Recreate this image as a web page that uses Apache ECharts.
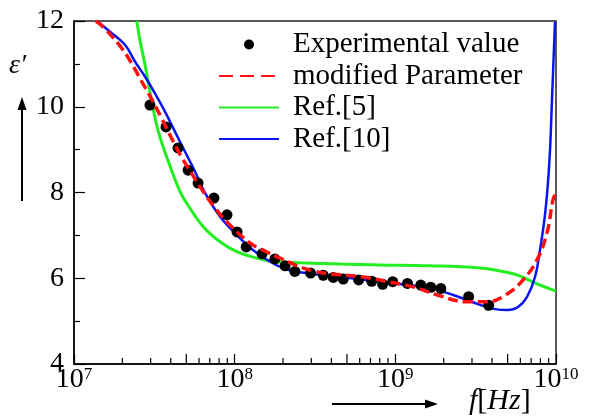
<!DOCTYPE html>
<html>
<head>
<meta charset="utf-8">
<script src="https://cdn.jsdelivr.net/npm/echarts@6/dist/echarts.min.js"></script>
<style>
  html, body { margin: 0; padding: 0; background: #fff; }
  #main { width: 589px; height: 418px; }
</style>
</head>
<body>
<div id="main"></div>
<script>
// experimental points
var expFreq = [2.97e7, 3.74e7, 4.44e7, 5.13e7, 5.92e7, 7.43e7, 8.96e7, 1.035e8, 1.18e8, 1.48e8, 1.78e8, 2.06e8, 2.37e8,
  2.97e8, 3.56e8, 4.11e8, 4.74e8, 5.91e8, 7.13e8, 8.34e8, 9.63e8, 1.19e9, 1.44e9, 1.66e9, 1.92e9, 2.86e9, 3.81e9];
var expEps = [10.04, 9.53, 9.04, 8.52, 8.22, 7.87, 7.48, 7.08, 6.73, 6.57, 6.45, 6.29, 6.16,
  6.12, 6.07, 6.02, 5.98, 5.96, 5.93, 5.86, 5.92, 5.88, 5.84, 5.79, 5.76, 5.57, 5.37];

// modified Parameter (red dashed)
var modFreq = [1.37e7, 1.54e7, 1.96e7, 2.26e7, 2.61e7, 3.02e7, 3.48e7, 4.02e7, 4.63e7, 5.43e7, 6.35e7, 7.54e7, 8.96e7,
  1.25e8, 1.59e8, 1.91e8, 3.08e8, 6.30e8, 9.27e8, 1.29e9, 1.82e9, 2.79e9, 3.72e9, 4.96e9, 6.24e9, 7.62e9, 8.79e9,
  9.58e9, 1e10];
var modEps = [12.0, 11.84, 11.39, 11.04, 10.62, 10.20, 9.76, 9.29, 8.85, 8.43, 8.03, 7.64, 7.31,
  6.82, 6.61, 6.47, 6.17, 6.03, 5.91, 5.80, 5.61, 5.45, 5.45, 5.63, 5.96, 6.43, 7.06,
  7.83, 7.99];

// Ref.[5] (green)
var ref5Freq = [2.46e7, 2.57e7, 2.77e7, 3.05e7, 3.35e7, 3.87e7, 4.57e7, 5.03e7, 6.38e7, 8.10e7, 1.03e8, 1.37e8, 1.73e8,
  2.55e8, 4.53e8, 8.04e8, 1.64e9, 3.37e9, 4.48e9, 5.71e9, 7.62e9, 1e10];
var ref5Eps = [12.0, 11.56, 10.97, 10.12, 9.42, 8.72, 8.02, 7.75, 7.20, 6.85, 6.62, 6.47, 6.39,
  6.36, 6.33, 6.31, 6.29, 6.24, 6.17, 6.08, 5.87, 5.70];

// Ref.[10] (blue)
var ref10Freq = [1.39e7, 1.675e7, 2.08e7, 2.40e7, 2.77e7, 3.19e7, 3.69e7, 4.25e7, 4.91e7, 5.66e7, 6.54e7, 8.10e7, 1.03e8,
  1.30e8, 1.66e8, 1.91e8, 2.44e8, 5.00e8, 9.27e8, 1.64e9, 2.29e9, 3.37e9, 4.17e9, 5.02e9, 5.80e9, 6.59e9, 7.40e9,
  7.95e9, 8.51e9, 8.91e9, 9.18e9, 9.44e9, 9.86e9];
var ref10Eps = [12.0, 11.75, 11.44, 11.05, 10.70, 10.31, 9.88, 9.42, 8.95, 8.49, 7.99, 7.44, 7.01,
  6.66, 6.39, 6.27, 6.15, 6.01, 5.89, 5.77, 5.61, 5.38, 5.28, 5.26, 5.33, 5.56, 6.03,
  6.66, 7.43, 8.22, 8.99, 10.16, 11.98];

// log minor tick positions on the frequency axis
var minorTickFreq = [2e7, 3e7, 4e7, 5e7, 6e7, 7e7, 8e7, 9e7,
  2e8, 3e8, 4e8, 5e8, 6e8, 7e8, 8e8, 9e8,
  2e9, 3e9, 4e9, 5e9, 6e9, 7e9, 8e9, 9e9];

var serif = 'Liberation Serif';

function zip(xs, ys) {
  return xs.map(function (x, i) { return [x, ys[i]]; });
}

var chart = echarts.init(document.getElementById('main'));
var option = {
  animation: false,
  textStyle: { fontFamily: serif, color: '#000' },
  grid: {
    left: 74, right: 33, top: 21, bottom: 54,
    show: true, borderColor: '#222', borderWidth: 1.5
  },
  legend: {
    data: [
      { name: 'Experimental value', icon: 'circle' },
      { name: 'modified Parameter', itemStyle: { opacity: 0 }, lineStyle: { type: [14, 7] } },
      { name: 'Ref.[5]', itemStyle: { opacity: 0 } },
      { name: 'Ref.[10]', itemStyle: { opacity: 0 } }
    ],
    orient: 'vertical',
    left: 218,
    top: 30,
    padding: 0,
    itemWidth: 60,
    itemHeight: 10,
    itemGap: 2.5,
    selectedMode: false,
    textStyle: { fontFamily: serif, fontSize: 29, color: '#000', lineHeight: 29, padding: [0, 0, 0, 9] }
  },
  xAxis: {
    type: 'log',
    logBase: 10,
    min: 1e7,
    max: 1e10,
    splitNumber: 3,
    axisLine: { lineStyle: { color: '#000', width: 1.5 } },
    axisTick: { inside: true, length: 10, lineStyle: { color: '#000', width: 1.2 } },
    splitLine: { show: false },
    axisLabel: {
      margin: 2,
      fontFamily: serif,
      formatter: function (v) {
        return '{b|10}{s|' + Math.round(Math.log10(v)) + '}';
      },
      rich: {
        b: { fontFamily: serif, fontSize: 28, color: '#000' },
        s: { fontFamily: serif, fontSize: 17, color: '#000', verticalAlign: 'top' }
      }
    }
  },
  yAxis: {
    type: 'value',
    min: 4,
    max: 12,
    interval: 2,
    axisLine: { show: true, lineStyle: { color: '#000', width: 1.5 } },
    axisTick: { show: true, inside: true, length: 11, lineStyle: { color: '#000', width: 1.2 } },
    minorTick: { show: true, splitNumber: 2, length: 6, lineStyle: { color: '#000', width: 1.2 } },
    splitLine: { show: false },
    axisLabel: { margin: 10, fontFamily: serif, fontSize: 28, color: '#000' }
  },
  graphic: [
    { type: 'text', left: 9, top: 52, style: { text: 'ε′', font: 'italic 28px ' + serif, fill: '#000' } },
    { type: 'line', shape: { x1: 22, y1: 201, x2: 22, y2: 106 }, style: { stroke: '#000', lineWidth: 2 } },
    { type: 'polygon', shape: { points: [[22, 97], [17.5, 110], [26.5, 110]] }, style: { fill: '#000' } },
    { type: 'line', shape: { x1: 332, y1: 404, x2: 428, y2: 404 }, style: { stroke: '#000', lineWidth: 2 } },
    { type: 'polygon', shape: { points: [[438, 404], [425, 399.5], [425, 408.5]] }, style: { fill: '#000' } },
    {
      type: 'text', left: 469, top: 386,
      style: {
        text: '{i|f}{n|[}{i|Hz}{n|]}',
        rich: {
          i: { font: 'italic 30px ' + serif, fill: '#000' },
          n: { font: '30px ' + serif, fill: '#000' }
        }
      }
    }
  ],
  series: [
    {
      name: 'minor',
      type: 'custom',
      z: 1,
      silent: true,
      data: minorTickFreq.map(function (f) { return [f, 4]; }),
      renderItem: function (params, api) {
        var f = api.value(0);
        var p = api.coord([f, api.value(1)]);
        var m = Math.round(f / Math.pow(10, Math.floor(Math.log10(f) + 1e-9)));
        var len = m === 5 ? 10 : 6;
        return {
          type: 'line',
          shape: { x1: p[0], y1: p[1], x2: p[0], y2: p[1] - len },
          style: { stroke: '#000', lineWidth: 1.2 }
        };
      }
    },
    {
      name: 'Ref.[5]',
      type: 'line',
      z: 2,
      data: zip(ref5Freq, ref5Eps),
      showSymbol: false,
      symbol: 'none',
      smooth: 0.4,
      lineStyle: { color: '#22ee22', width: 3 },
      itemStyle: { color: '#22ee22' }
    },
    {
      name: 'Ref.[10]',
      type: 'line',
      z: 3,
      data: zip(ref10Freq, ref10Eps),
      showSymbol: false,
      symbol: 'none',
      smooth: 0.4,
      lineStyle: { color: '#0a14f0', width: 2.5 },
      itemStyle: { color: '#0a14f0' }
    },
    {
      name: 'Experimental value',
      type: 'scatter',
      z: 4,
      symbol: 'circle',
      symbolSize: 11,
      data: zip(expFreq, expEps),
      itemStyle: { color: '#000', opacity: 1 }
    },
    {
      name: 'modified Parameter',
      type: 'line',
      z: 5,
      data: zip(modFreq, modEps),
      showSymbol: false,
      symbol: 'none',
      smooth: 0.4,
      lineStyle: { color: '#ff1010', width: 3.5, type: [10, 5] },
      itemStyle: { color: '#ff1010' }
    }
  ]
};
chart.setOption(option);
</script>
</body>
</html>
